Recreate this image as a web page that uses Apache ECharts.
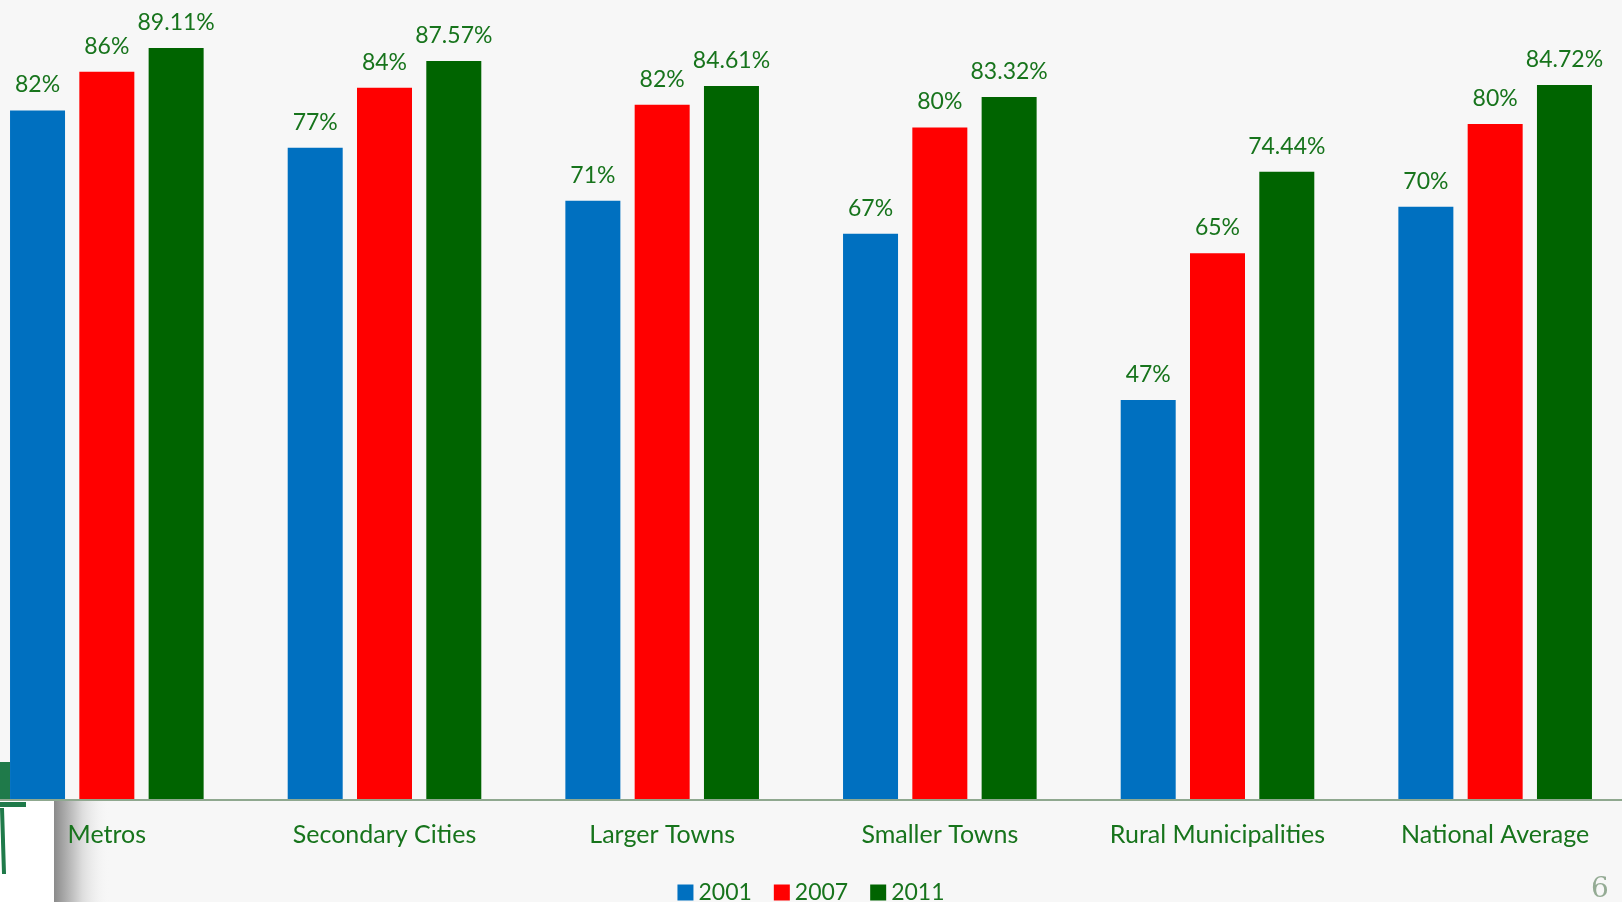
<!DOCTYPE html>
<html>
<head>
<meta charset="utf-8">
<script src="https://cdn.jsdelivr.net/npm/echarts@6/dist/echarts.min.js"></script>
<style>
html,body{margin:0;padding:0;background:#f7f7f7;}
#chart{width:1622px;height:902px;}
</style>
</head>
<body>
<div id="chart"></div>
<script>
const categories = ['Metros', 'Secondary Cities', 'Larger Towns', 'Smaller Towns', 'Rural Municipalities', 'National Average'];
const seriesNames = ['2001', '2007', '2011'];
const values2001 = [81.7, 77.3, 71.0, 67.1, 47.4, 70.3];
const values2007 = [86.3, 84.4, 82.4, 79.7, 64.8, 80.1];
const values2011 = [89.11, 87.57, 84.61, 83.32, 74.44, 84.72];
const labelDecimals = [0, 0, 2];
const pageNumber = '6';

const colors = ['#0070c0', '#ff0000', '#006400'];
const textGreen = '#17741c';
const font = 'Lato';

const chart = echarts.init(document.getElementById('chart'));
function mk(name, data, i) {
  return {
    name: name,
    type: 'bar',
    data: data,
    barWidth: 55,
    barGap: '26%',
    itemStyle: { color: colors[i] },
    label: {
      show: true,
      position: 'top',
      distance: 14,
      color: textGreen,
      fontFamily: font,
      fontSize: 23,
      formatter: p => p.value.toFixed(labelDecimals[i]) + '%'
    },
    emphasis: { disabled: true },
    z: 3
  };
}
chart.setOption({
  backgroundColor: '#f7f7f7',
  animation: false,
  grid: { left: -32, right: -12, top: 0, bottom: 102, containLabel: false, outerBoundsMode: 'none' },
  legend: {
    data: seriesNames,
    bottom: -7,
    left: 'center',
    itemWidth: 16,
    itemHeight: 16,
    itemGap: 22,
    icon: 'rect',
    textStyle: { color: textGreen, fontFamily: font, fontSize: 23 }
  },
  xAxis: {
    type: 'category',
    data: categories,
    z: 20,
    axisLine: { show: true, lineStyle: { color: '#8fa88f', width: 2 } },
    axisTick: { show: false },
    axisLabel: { color: textGreen, fontFamily: font, fontSize: 25, margin: 22, interval: 0 }
  },
  yAxis: {
    type: 'value',
    min: 0,
    max: 94.8,
    show: false,
    splitLine: { show: false }
  },
  graphic: [
    { type: 'rect', left: 0, top: 801, shape: { width: 54, height: 101 }, style: { fill: '#ffffff' }, z: 10 },
    { type: 'rect', left: 54, top: 801, shape: { width: 56, height: 101 },
      style: { fill: new echarts.graphic.LinearGradient(0, 0, 1, 0, [
        { offset: 0, color: '#8a8a8a' }, { offset: 0.5, color: '#dcdcdc' }, { offset: 1, color: 'rgba(247,247,247,0)' }]) }, z: 10 },
    { type: 'rect', left: 0, top: 762, shape: { width: 10, height: 38 }, style: { fill: '#1f7a4a' }, z: 10 },
    { type: 'rect', left: 0, top: 802, shape: { width: 26, height: 5 }, style: { fill: '#1f7a4a' }, z: 11 },
    { type: 'polygon', shape: { points: [[0, 808], [4, 808], [6, 874], [2, 874]] }, style: { fill: '#1f7a4a' }, z: 11 },
    { type: 'text', left: 1591, top: 876, style: { text: pageNumber, fill: '#94ab94', font: '28px "DejaVu Serif"' }, z: 11 }
  ],
  series: [
    mk(seriesNames[0], values2001, 0),
    mk(seriesNames[1], values2007, 1),
    mk(seriesNames[2], values2011, 2)
  ]
});
</script>
</body>
</html>
